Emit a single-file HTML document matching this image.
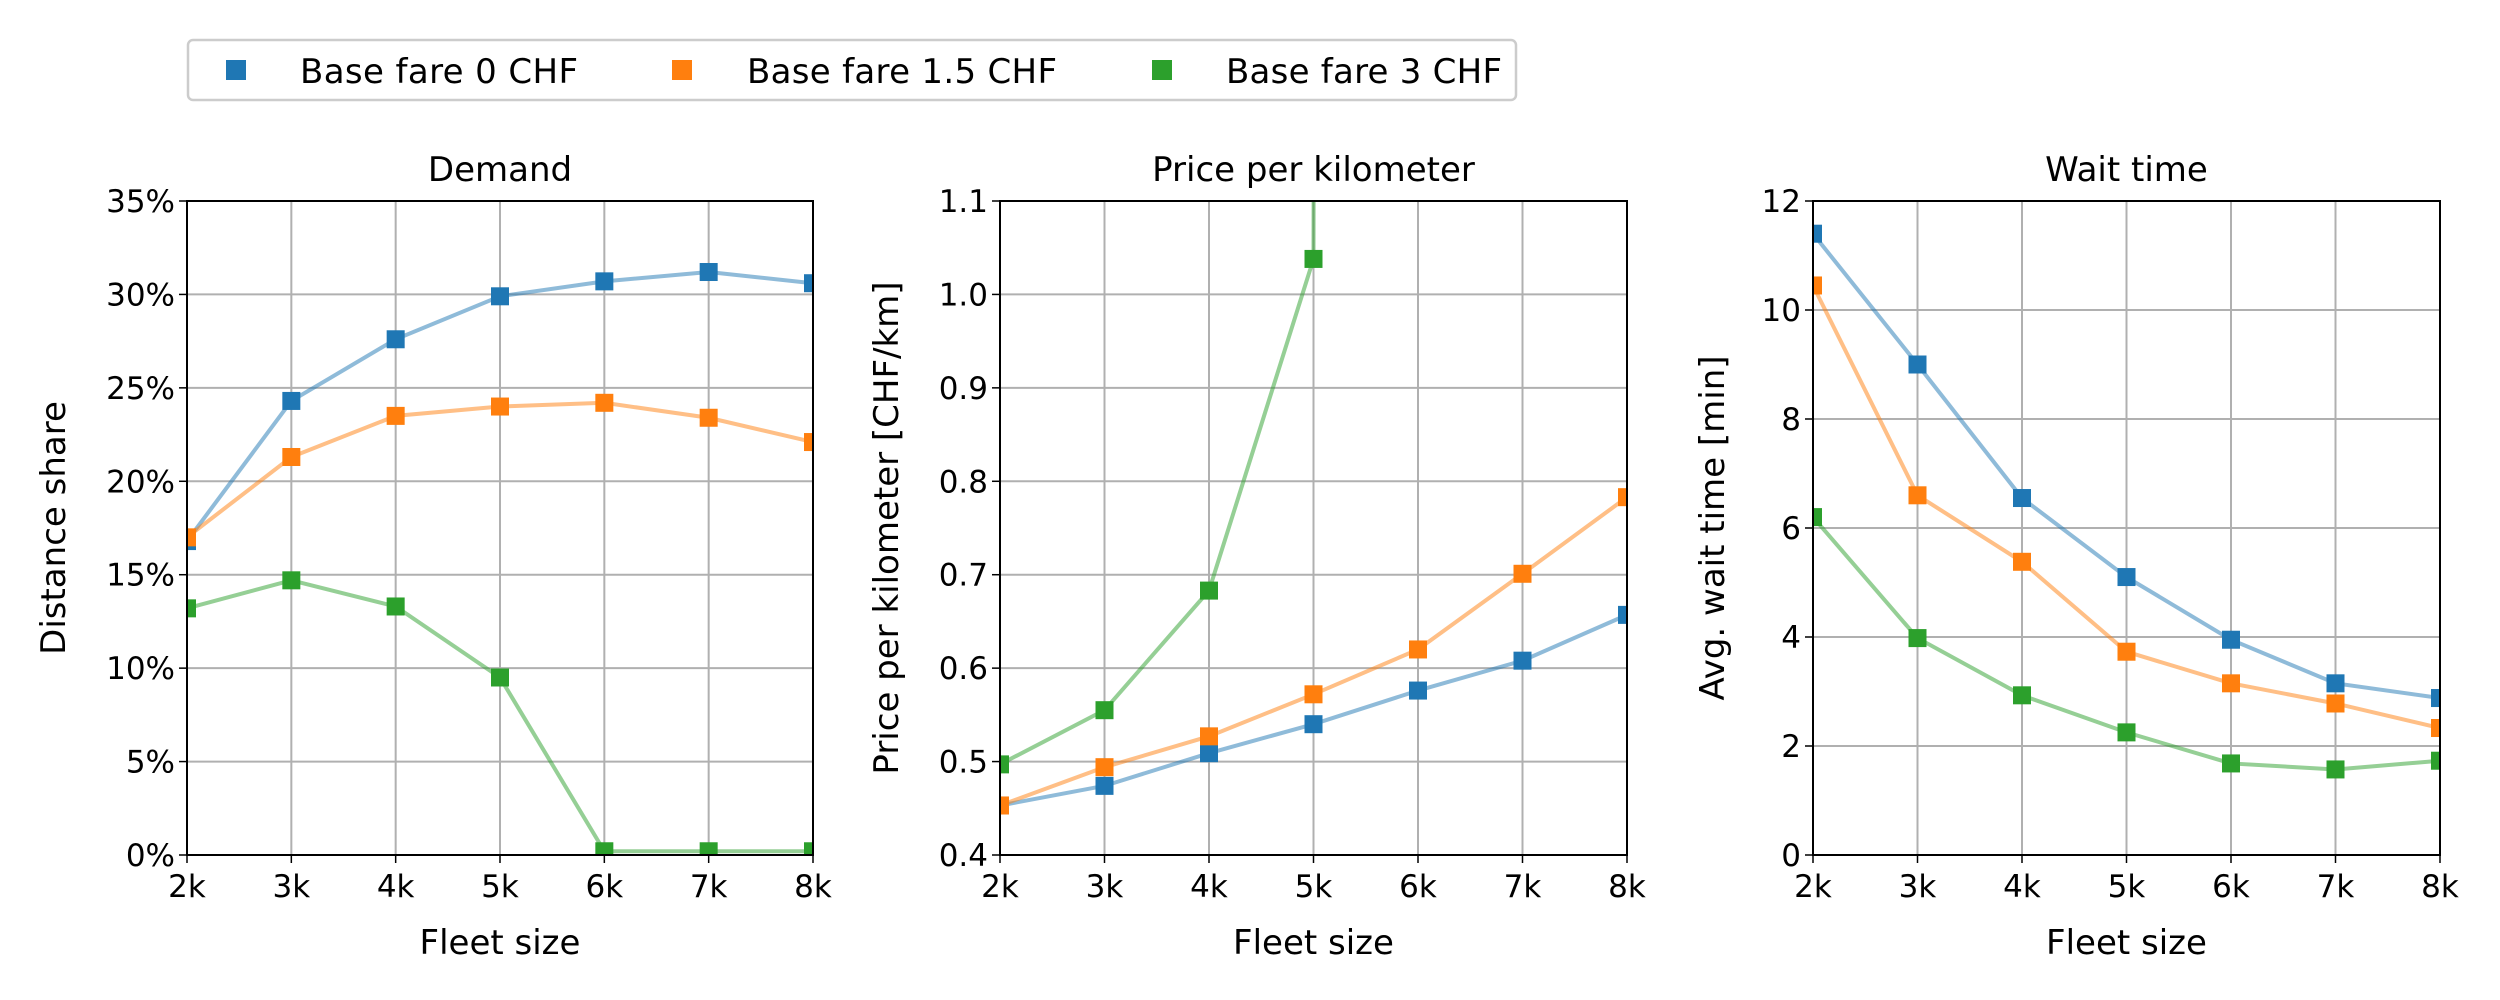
<!DOCTYPE html>
<html><head><meta charset="utf-8"><style>
html,body{margin:0;padding:0;background:#fff;}
svg{display:block;font-family:"DejaVu Sans","Liberation Sans",sans-serif;}
</style></head><body>
<svg id="chart" width="2500" height="1000" viewBox="0 0 2500 1000" xmlns="http://www.w3.org/2000/svg">
<g>
<rect x="188" y="40" width="1328" height="60" rx="5" fill="#fff" stroke="#cccccc" stroke-width="2.5"/>
<rect x="226" y="60" width="20" height="20" fill="#1f77b4"/>
<text x="300" y="83" font-size="34" textLength="278">Base fare 0 CHF</text>
<rect x="672" y="60" width="20" height="20" fill="#ff7f0e"/>
<text x="747" y="83" font-size="34" textLength="310">Base fare 1.5 CHF</text>
<rect x="1152" y="60" width="20" height="20" fill="#2ca02c"/>
<text x="1226" y="83" font-size="34" textLength="276">Base fare 3 CHF</text>
</g>
</svg>
<script>
const fleetSizes = [2,3,4,5,6,7,8];
const xTickLabels = ["2k","3k","4k","5k","6k","7k","8k"];
const demandBase0 = [16.8,24.3,27.6,29.9,30.7,31.2,30.6];
const demandBase15 = [17.0,21.3,23.5,24.0,24.2,23.4,22.1];
const demandBase3 = [13.2,14.7,13.3,9.5,0.2,0.2,0.2];
const demandTicks = [0,5,10,15,20,25,30,35];
const priceBase0 = [0.453,0.474,0.509,0.540,0.576,0.608,0.657];
const priceBase15 = [0.453,0.494,0.527,0.572,0.620,0.701,0.783];
const priceBase3 = [0.497,0.555,0.683,1.038,60,80,100];
const priceTicks = [0.4,0.5,0.6,0.7,0.8,0.9,1.0,1.1];
const waitBase0 = [11.4,9.0,6.55,5.1,3.95,3.15,2.88];
const waitBase15 = [10.45,6.6,5.38,3.73,3.15,2.78,2.33];
const waitBase3 = [6.2,3.98,2.93,2.25,1.68,1.57,1.73];
const waitTicks = [0,2,4,6,8,10,12];

const NS="http://www.w3.org/2000/svg";
const svgEl=document.getElementById('chart');
function mk(tag,attrs,parent){const e=document.createElementNS(NS,tag);for(const k in attrs)e.setAttribute(k,attrs[k]);(parent||svgEl).appendChild(e);return e;}
const colors=["#1f77b4","#ff7f0e","#2ca02c"];
const seriesNames=["base-0","base-1-5","base-3"];
const axTop=201,axBottom=855;
const panels=[
 {key:"demand",left:187,right:813,ymin:0,ymax:35,ticks:demandTicks,fmt:v=>v+"%",series:[demandBase0,demandBase15,demandBase3],title:"Demand",ylabel:"Distance share",ylx:53},
 {key:"price",left:1000,right:1627,ymin:0.4,ymax:1.1,ticks:priceTicks,fmt:v=>v.toFixed(1),series:[priceBase0,priceBase15,priceBase3],title:"Price per kilometer",ylabel:"Price per kilometer [CHF/km]",ylx:886},
 {key:"wait",left:1813,right:2440,ymin:0,ymax:12,ticks:waitTicks,fmt:v=>String(v),series:[waitBase0,waitBase15,waitBase3],title:"Wait time",ylabel:"Avg. wait time [min]",ylx:1712}
];
const defs=mk('defs',{});
panels.forEach((p,pi)=>{
 const xs=v=>p.left+(v-2)/6*(p.right-p.left);
 const ys=v=>axBottom-(v-p.ymin)/(p.ymax-p.ymin)*(axBottom-axTop);
 const g=mk('g',{});
 
 
 const cp=mk('clipPath',{id:'clip'+pi},defs);
 mk('rect',{x:p.left,y:axTop,width:p.right-p.left,height:axBottom-axTop},cp);
 fleetSizes.forEach((f,i)=>{
  const x=xs(f);
  const gl=mk('line',{x1:x,x2:x,y1:axTop,y2:axBottom,stroke:"#b0b0b0","stroke-width":2},g);
  
  
  mk('line',{x1:x,x2:x,y1:axBottom,y2:axBottom+8,stroke:"#000","stroke-width":1.5},g);
  const t=mk('text',{x:x,y:axBottom+42,"font-size":31,"text-anchor":"middle"},g);
  t.textContent=xTickLabels[i];
  
  
 });
 p.ticks.forEach(v=>{
  const y=ys(v);
  const gl=mk('line',{x1:p.left,x2:p.right,y1:y,y2:y,stroke:"#b0b0b0","stroke-width":2},g);
  
  
  mk('line',{x1:p.left-8,x2:p.left,y1:y,y2:y,stroke:"#000","stroke-width":1.5},g);
  const t=mk('text',{x:p.left-12,y:y+11,"font-size":31,"text-anchor":"end"},g);
  t.textContent=p.fmt(v);
  
  
 });
 const sg=mk('g',{"clip-path":"url(#clip"+pi+")"},g);
 p.series.forEach((vals,si)=>{
  const pts=vals.map((v,i)=>xs(fleetSizes[i])+","+ys(v)).join(" ");
  const pl=mk('polyline',{points:pts,fill:"none",stroke:colors[si],"stroke-opacity":0.5,"stroke-width":4},sg);
  
  
  vals.forEach((v,i)=>{
   const r=mk('rect',{x:xs(fleetSizes[i])-9,y:ys(v)-9,width:18,height:18,fill:colors[si]},sg);
   
   
  });
 });
 const fr=mk('rect',{x:p.left,y:axTop,width:p.right-p.left,height:axBottom-axTop,fill:"none",stroke:"#000","stroke-width":2},g);
 
 
 const tt=mk('text',{x:(p.left+p.right)/2,y:181,"font-size":34,"text-anchor":"middle"},g);
 tt.textContent=p.title;
 
 
 const xl=mk('text',{x:(p.left+p.right)/2,y:954,"font-size":34,"text-anchor":"middle"},g);
 xl.textContent="Fleet size";
 
 
 const yc=(axTop+axBottom)/2;
 const yl=mk('text',{x:p.ylx,y:yc,"font-size":34,"text-anchor":"middle",transform:"rotate(-90 "+p.ylx+" "+yc+")",dy:12},g);
 yl.textContent=p.ylabel;
 
 
});
</script>
</body></html>
